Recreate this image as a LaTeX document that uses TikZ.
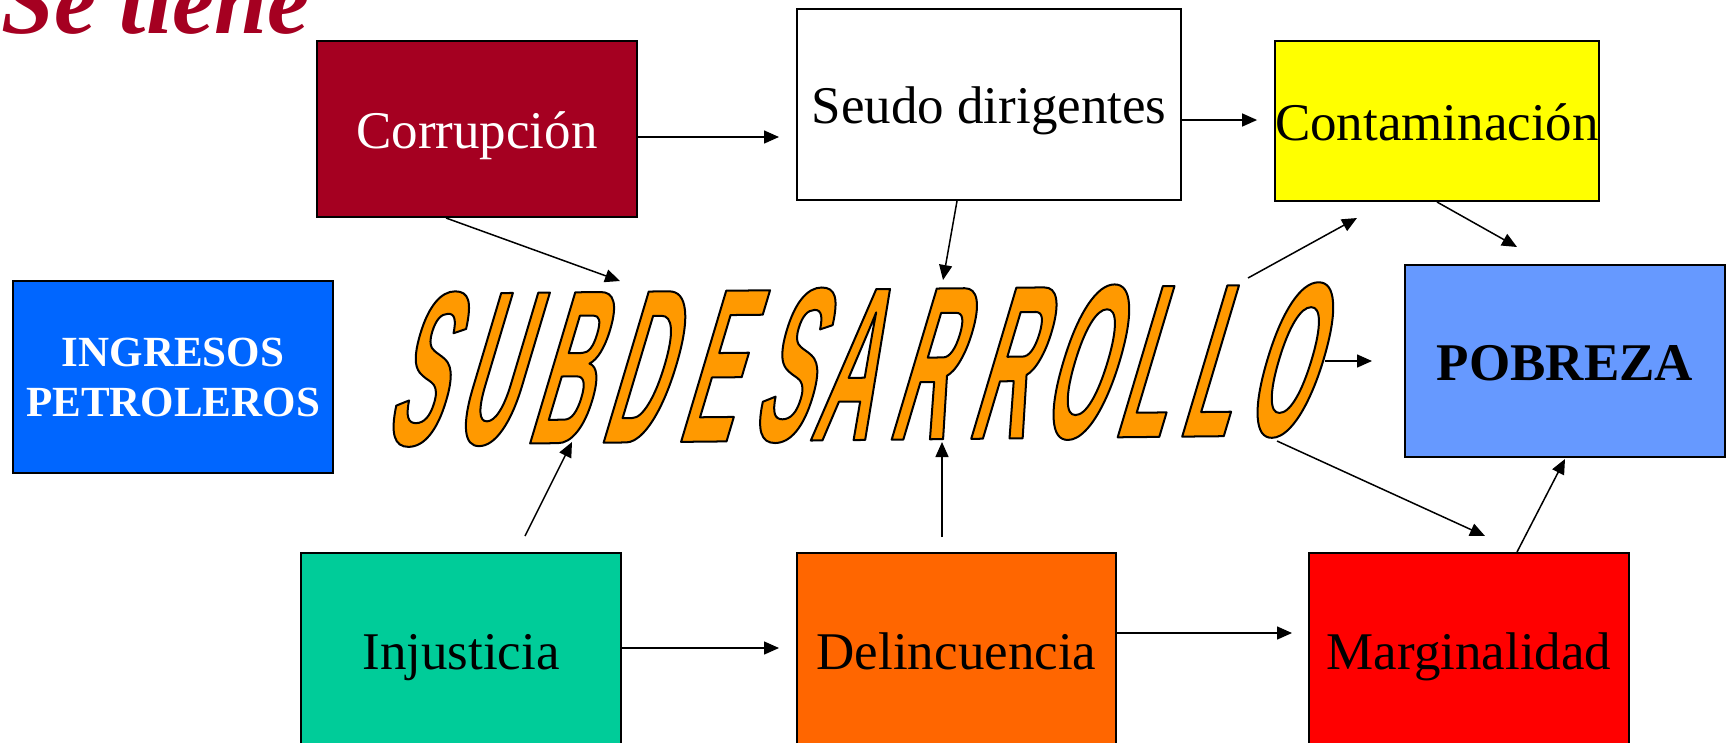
\documentclass[tikz,border=0pt]{standalone}
\usepackage{fontspec}
\setmainfont{Liberation Serif}
\newfontfamily\wafont{Liberation Sans Bold}[FakeStretch=0.37,FakeSlant=0.31]
\usetikzlibrary{arrows.meta,calc}
\definecolor{crimson}{HTML}{A50021}
\definecolor{ingblue}{HTML}{0066FF}
\definecolor{pobblue}{HTML}{6699FF}
\definecolor{injgreen}{HTML}{00CC99}
\definecolor{delorange}{HTML}{FF6600}
\definecolor{margred}{HTML}{FF0000}
\definecolor{contyellow}{HTML}{FFFF00}
\definecolor{waorange}{HTML}{FF9900}
\newcommand{\wk}[1][15pt]{\kern#1}
\newcommand{\outlineon}{\special{pdf:literal direct 0 0 0 RG 2 w 1 j 2 Tr}}
\newcommand{\outlineoff}{\special{pdf:literal direct 0 Tr}}
\tikzset{
  box/.style={draw, line width=2pt, inner sep=0pt, minimum width=320pt,
    font=\fontsize{53}{60}\selectfont, text height=48pt, text depth=10pt},
  arr/.style={line width=1.5pt, -{Triangle[length=15pt,width=13pt]}}
}
\begin{document}
\begin{tikzpicture}[x=1pt,y=-1pt]
\useasboundingbox (0,0) rectangle (1728,742);
\fill[white] (0,0) rectangle (1728,742);
\clip (0,0) rectangle (1728,742);

% title
\node[anchor=base west, inner sep=0pt, text=crimson,
  font=\fontsize{95}{95}\selectfont\bfseries\itshape] (title) at (1,33) {Se tiene};

% boxes
\node[box, fill=crimson, text=white, minimum height=176pt] (corr) at (477,129) {Corrupción};
\node[box, fill=white, minimum width=384pt, minimum height=191pt] (seudo) at (989,104.5) {Seudo dirigentes};
\node[box, fill=contyellow, minimum height=160pt] (conta) at (1437,121) {Contaminación};
\node[box, fill=ingblue, text=white, minimum height=192pt, text height=, text depth=,
  align=center, font=\fontsize{43}{50}\selectfont\bfseries] (ingr) at (173,377) {INGRESOS\\PETROLEROS};
\node[box, fill=pobblue, minimum height=192pt, font=\fontsize{53}{60}\selectfont\bfseries] (pob) at (1565,361) {POBREZA};
\node[box, fill=injgreen, minimum height=194pt] (inj) at (461,650) {Injusticia};
\node[box, fill=delorange, minimum width=319pt, minimum height=194pt] (delin) at (956.5,650) {Delincuencia};
\node[box, fill=margred, minimum height=194pt] (marg) at (1469,650) {Marginalidad};

% word art
\node[anchor=base west, inner sep=0pt, text=waorange, rotate=0.6,
  font=\wafont\fontsize{219}{219}\selectfont] (word) at (382,445)
  {\outlineon S\wk U\wk B\wk D\wk[19pt]E\wk[19pt]S\wk[6pt]A\wk[19pt]R\wk[21pt]R\wk[13pt]O\wk[12pt]L\wk L\wk O\outlineoff};

% connector ends at the word art
\coordinate (wc) at (620,281);
\coordinate (wd) at (943,280);
\coordinate (we) at (572,442);
\coordinate (wf) at (942,442);
\coordinate (wg) at (1248,278);
\coordinate (wi) at (1325,361);
\coordinate (wj) at (1277,441);

% connectors
\draw[arr] ($(corr.east)+(0,8)$) -- ($(seudo.west)+(-17,32.5)$);
\draw[arr] ($(seudo.east)+(0,15.5)$) -- ($(conta.west)+(-17,-1)$);
\draw[arr] ($(corr.south)+(-31,0)$) -- (wc);
\draw[arr] ($(seudo.south)+(-32,0)$) -- (wd);
\draw[arr] ($(inj.north)+(64,-16)$) -- (we);
\draw[arr] ($(delin.north)+(-14.5,-15)$) -- (wf);
\draw[arr] (wg) -- ($(conta.south)+(-80,16)$);
\draw[arr] (conta.south) -- ($(pob.north)+(-48,-17)$);
\draw[arr] (wi) -- ($(pob.west)+(-32,0)$);
\draw[arr] (wj) -- ($(marg.north)+(16,-16)$);
\draw[arr] ($(marg.north)+(48,0)$) -- ($(pob.south)+(0,1)$);
\draw[arr] ($(inj.east)+(0,-2)$) -- ($(delin.west)+(-17,-2)$);
\draw[arr] ($(delin.east)+(0,-17)$) -- ($(marg.west)+(-16,-17)$);
\end{tikzpicture}
\end{document}
